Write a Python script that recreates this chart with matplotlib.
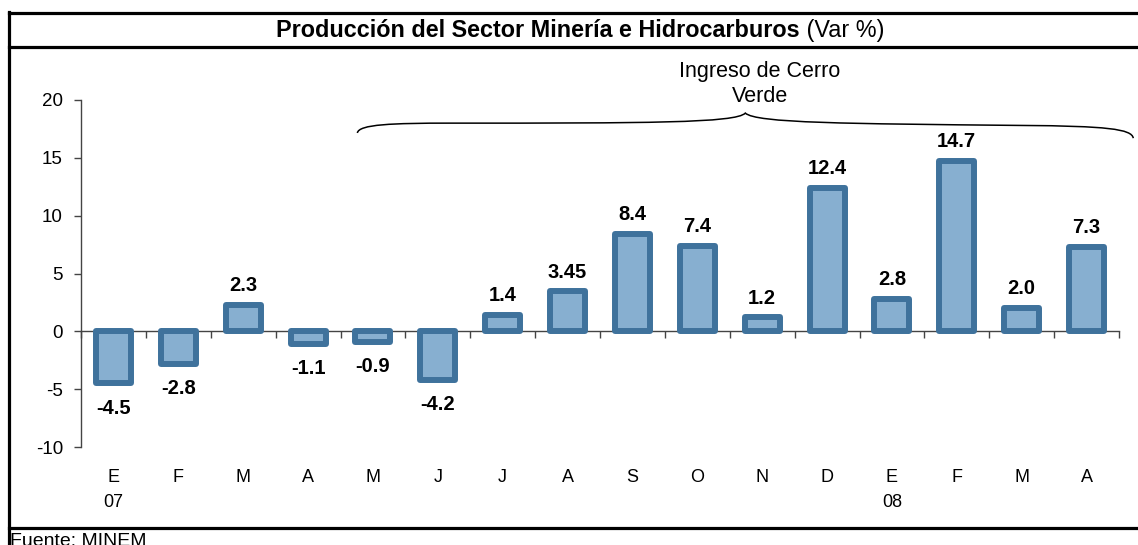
import numpy as np
import matplotlib.pyplot as plt
from matplotlib.path import Path
from matplotlib.patches import PathPatch
from matplotlib.lines import Line2D

# datos
meses = ['E\n07', 'F', 'M', 'A', 'M', 'J', 'J', 'A', 'S', 'O', 'N', 'D', 'E\n08', 'F', 'M', 'A']
var_pct = [-4.5, -2.8, 2.3, -1.1, -0.9, -4.2, 1.4, 3.45, 8.4, 7.4, 1.2, 12.4, 2.8, 14.7, 2.0, 7.3]
etiquetas = ['-4.5', '-2.8', '2.3', '-1.1', '-0.9', '-4.2', '1.4', '3.45', '8.4', '7.4',
             '1.2', '12.4', '2.8', '14.7', '2.0', '7.3']
y_ticks = [-10, -5, 0, 5, 10, 15, 20]

plt.rcParams['font.family'] = ['Liberation Sans', 'DejaVu Sans']
plt.rcParams['axes.unicode_minus'] = False

W, H = 1138, 545
fig = plt.figure(figsize=(W / 100, H / 100), dpi=100)
ax = fig.add_axes([81 / W, 1 - 447 / H, (1119 - 81) / W, 347 / H])

x = np.arange(len(var_pct))
ax.bar(x, var_pct, width=0.54, color='#87AFD0', edgecolor='#3F729C',
       linewidth=4.3, joinstyle='round', zorder=3)

for xi, v, t in zip(x, var_pct, etiquetas):
    if v >= 0:
        ax.annotate(t, (xi, v), xytext=(0, 10), textcoords='offset points',
                    ha='center', va='baseline', fontsize=14.5, fontweight='bold')
    else:
        ax.annotate(t, (xi, v), xytext=(0, -11), textcoords='offset points',
                    ha='center', va='top', fontsize=14.5, fontweight='bold')

ax.set_xlim(-0.5, len(var_pct) - 0.5)
ax.set_ylim(-10, 20)
ax.set_yticks(y_ticks)
ax.set_xticks(x)
ax.set_xticklabels(meses)
for lbl in ax.get_xticklabels():
    lbl.set_linespacing(1.65)
ax.tick_params(axis='x', length=0, pad=15.5, labelsize=13)
ax.tick_params(axis='y', length=5, width=1, color='#444444', pad=8, labelsize=13.5)
for s in ['top', 'right', 'bottom']:
    ax.spines[s].set_visible(False)
ax.spines['left'].set_color('#444444')
ax.spines['left'].set_linewidth(1)

# eje en cero con marcas entre categorias
sec = ax.secondary_xaxis(0, transform=ax.transData)
sec.set_xticks(np.arange(-0.5, len(var_pct), 1.0))
sec.set_xticklabels([])
sec.tick_params(length=5, width=1, color='#444444')
sec.spines['bottom'].set_color('#444444')
sec.spines['bottom'].set_linewidth(1)

# llave
verts = [(3.76, 17.15), (3.78, 17.9), (4.3, 18.0), (5.2, 18.0),
         (8.2, 18.0), (9.6, 18.0), (9.74, 18.87),
         (9.9, 18.0), (11.3, 17.95), (14.0, 17.8),
         (15.3, 17.75), (15.7, 17.5), (15.72, 16.7)]
codes = [Path.MOVETO, Path.CURVE4, Path.CURVE4, Path.CURVE4,
         Path.CURVE4, Path.CURVE4, Path.CURVE4,
         Path.CURVE4, Path.CURVE4, Path.CURVE4,
         Path.CURVE4, Path.CURVE4, Path.CURVE4]
ax.add_patch(PathPatch(Path(verts, codes), fill=False, lw=1.1, color='black', clip_on=False))
fig.text(760 / W, 1 - 77 / H, 'Ingreso de Cerro', ha='center', va='baseline', fontsize=15.5)
fig.text(760 / W, 1 - 102 / H, 'Verde', ha='center', va='baseline', fontsize=15.5)

# marco
lw = 2.3
fig.add_artist(Line2D([9 / W, 9 / W], [1 - 12 / H, 0], lw=lw, color='black'))
fig.add_artist(Line2D([9 / W, 1], [1 - 13 / H, 1 - 13 / H], lw=lw, color='black'))
fig.add_artist(Line2D([9 / W, 1], [1 - 47 / H, 1 - 47 / H], lw=lw, color='black'))
fig.add_artist(Line2D([9 / W, 1], [1 - 528 / H, 1 - 528 / H], lw=lw, color='black'))

# titulo centrado (parte en negrita + parte normal)
t1 = fig.text(0, 1 - 37 / H, 'Producción del Sector Minería e Hidrocarburos',
              ha='left', va='baseline', fontsize=16.8, fontweight='bold')
t2 = fig.text(0, 1 - 37 / H, ' (Var %)', ha='left', va='baseline', fontsize=16.8)
fig.canvas.draw()
w1 = t1.get_window_extent().width
w2 = t2.get_window_extent().width
x0 = 580 - (w1 + w2) / 2
t1.set_x(x0 / W)
t2.set_x((x0 + w1) / W)

fig.text(10 / W, 1 - 533 / H, 'Fuente: MINEM', ha='left', va='top', fontsize=14)

fig.savefig('out.png', dpi=100)
